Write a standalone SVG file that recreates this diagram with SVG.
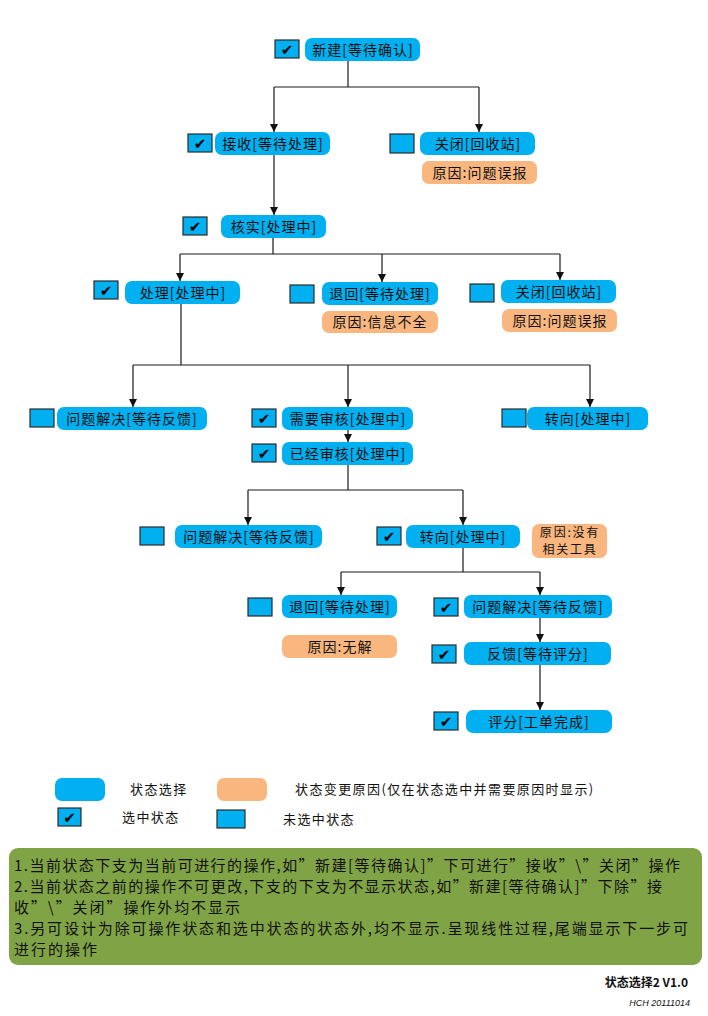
<svg xmlns="http://www.w3.org/2000/svg" width="708" height="1016" viewBox="0 0 708 1016">
<style>
.n{fill:#00B0F0}
.r{fill:#F9B67F}
.cb{fill:#00B0F0;stroke:#2a2a2a;stroke-width:1.2}
.t{font-family:"Noto Sans CJK SC","Noto Sans",sans-serif;font-size:14px;text-anchor:middle;fill:#111;letter-spacing:1px}
.t2{font-family:"Noto Sans CJK SC","Noto Sans",sans-serif;font-size:12px;text-anchor:middle;fill:#111;letter-spacing:1.8px}
.ck{font-family:"DejaVu Sans",sans-serif;font-size:15px;text-anchor:middle;fill:#000}
.lg{font-family:"Noto Sans CJK SC","Noto Sans",sans-serif;font-size:13px;fill:#111;letter-spacing:1.4px}
.nt{font-family:"Noto Sans CJK SC","Noto Sans",sans-serif;font-size:15px;fill:#111}
.c{fill:none;stroke:#1a1a1a;stroke-width:1.2}
</style>
<defs>
<marker id="a" markerUnits="userSpaceOnUse" markerWidth="10" markerHeight="10" refX="8" refY="4" orient="auto">
<path d="M0,0 L8,4 L0,8 Z" fill="#111"/>
</marker>
</defs>
<rect width="708" height="1016" fill="#fff"/>
<g id="connectors">
<path class="c" d="M348,61 V87 M274,87 H479"/>
<path class="c" marker-end="url(#a)" d="M274,87 V132"/>
<path class="c" marker-end="url(#a)" d="M479,87 V132"/>
<path class="c" marker-end="url(#a)" d="M274,155 V215"/>
<path class="c" d="M273,238 V254 M180,254 H560"/>
<path class="c" marker-end="url(#a)" d="M180,254 V281"/>
<path class="c" marker-end="url(#a)" d="M382,254 V282"/>
<path class="c" marker-end="url(#a)" d="M560,254 V280"/>
<path class="c" d="M181,304 V365 M133,365 H590"/>
<path class="c" marker-end="url(#a)" d="M133,365 V407"/>
<path class="c" marker-end="url(#a)" d="M348,365 V407"/>
<path class="c" marker-end="url(#a)" d="M590,365 V407"/>
<path class="c" marker-end="url(#a)" d="M348,430 V442"/>
<path class="c" d="M348,465 V490 M248,490 H463"/>
<path class="c" marker-end="url(#a)" d="M248,490 V525"/>
<path class="c" marker-end="url(#a)" d="M463,490 V525"/>
<path class="c" d="M463,548 V572 M341,572 H540"/>
<path class="c" marker-end="url(#a)" d="M341,572 V595"/>
<path class="c" marker-end="url(#a)" d="M540,572 V595"/>
<path class="c" marker-end="url(#a)" d="M540,618 V642"/>
<path class="c" marker-end="url(#a)" d="M540,665 V710"/>
</g>
<g id="n1"><rect class="cb" x="275" y="40" width="24" height="18"/><text class="ck" x="287" y="55">✔</text><rect class="n" x="305" y="38" width="115" height="23" rx="7"/><text class="t" x="363" y="54.5">新建[等待确认]</text></g>
<g id="n2"><rect class="cb" x="188" y="134" width="24" height="18"/><text class="ck" x="200" y="149">✔</text><rect class="n" x="215" y="132" width="115" height="23" rx="7"/><text class="t" x="273" y="148.5">接收[等待处理]</text></g>
<g id="n3"><rect class="cb" x="390" y="134" width="24" height="19"/><rect class="n" x="420" y="132" width="115" height="23" rx="7"/><text class="t" x="478" y="148.5">关闭[回收站]</text><rect class="r" x="422" y="161" width="115" height="23" rx="7"/><text class="t" x="480" y="177.5">原因:问题误报</text></g>
<g id="n4"><rect class="cb" x="183" y="217" width="24" height="18"/><text class="ck" x="195" y="232">✔</text><rect class="n" x="221" y="215" width="105" height="23" rx="7"/><text class="t" x="274" y="231.5">核实[处理中]</text></g>
<g id="n5"><rect class="cb" x="94" y="281" width="24" height="18"/><text class="ck" x="106" y="296">✔</text><rect class="n" x="125" y="281" width="115" height="23" rx="7"/><text class="t" x="183" y="297.5">处理[处理中]</text></g>
<g id="n6"><rect class="cb" x="290" y="285" width="24" height="18"/><rect class="n" x="322" y="282" width="116" height="23" rx="7"/><text class="t" x="380" y="298.5">退回[等待处理]</text><rect class="r" x="322" y="311" width="116" height="22" rx="7"/><text class="t" x="380" y="327">原因:信息不全</text></g>
<g id="n7"><rect class="cb" x="470" y="284" width="24" height="18"/><rect class="n" x="501" y="280" width="115" height="23" rx="7"/><text class="t" x="559" y="296.5">关闭[回收站]</text><rect class="r" x="502" y="309" width="115" height="23" rx="7"/><text class="t" x="560" y="325.5">原因:问题误报</text></g>
<g id="n8"><rect class="cb" x="30" y="409" width="24" height="18"/><rect class="n" x="57" y="407" width="150" height="23" rx="7"/><text class="t" x="132" y="423.5">问题解决[等待反馈]</text></g>
<g id="n9"><rect class="cb" x="252" y="409" width="24" height="18"/><text class="ck" x="264" y="424">✔</text><rect class="n" x="282" y="407" width="131" height="23" rx="7"/><text class="t" x="348" y="423.5">需要审核[处理中]</text></g>
<g id="n10"><rect class="cb" x="502" y="409" width="24" height="18"/><rect class="n" x="527" y="407" width="121" height="23" rx="7"/><text class="t" x="588" y="423.5">转向[处理中]</text></g>
<g id="n11"><rect class="cb" x="252" y="444" width="24" height="18"/><text class="ck" x="264" y="459">✔</text><rect class="n" x="282" y="442" width="131" height="23" rx="7"/><text class="t" x="348" y="458.5">已经审核[处理中]</text></g>
<g id="n12"><rect class="cb" x="140" y="527" width="24" height="18"/><rect class="n" x="175" y="525" width="147" height="23" rx="7"/><text class="t" x="249" y="541.5">问题解决[等待反馈]</text></g>
<g id="n13"><rect class="cb" x="377" y="527" width="24" height="18"/><text class="ck" x="389" y="542">✔</text><rect class="n" x="406" y="525" width="114" height="23" rx="7"/><text class="t" x="463" y="541.5">转向[处理中]</text><rect class="r" x="532" y="524" width="75" height="34" rx="7"/><text class="t2" x="570" y="536.5">原因:没有</text><text class="t2" x="570" y="554">相关工具</text></g>
<g id="n14"><rect class="cb" x="248" y="598" width="24" height="18"/><rect class="n" x="282" y="595" width="115" height="23" rx="7"/><text class="t" x="340" y="611.5">退回[等待处理]</text><rect class="r" x="282" y="635" width="115" height="23" rx="7"/><text class="t" x="340" y="651.5">原因:无解</text></g>
<g id="n15"><rect class="cb" x="434" y="598" width="24" height="18"/><text class="ck" x="446" y="613">✔</text><rect class="n" x="464" y="595" width="148" height="23" rx="7"/><text class="t" x="538" y="611.5">问题解决[等待反馈]</text></g>
<g id="n16"><rect class="cb" x="432" y="645" width="24" height="18"/><text class="ck" x="444" y="660">✔</text><rect class="n" x="464" y="642" width="147" height="23" rx="7"/><text class="t" x="538" y="658.5">反馈[等待评分]</text></g>
<g id="n17"><rect class="cb" x="434" y="712" width="24" height="18"/><text class="ck" x="446" y="727">✔</text><rect class="n" x="466" y="710" width="146" height="23" rx="7"/><text class="t" x="539" y="726.5">评分[工单完成]</text></g>
<g id="legend">
<rect class="n" x="55" y="778" width="50" height="23" rx="7"/><text class="lg" x="130" y="794">状态选择</text>
<rect class="r" x="217" y="778" width="50" height="23" rx="7"/><text class="lg" x="295" y="794">状态变更原因(仅在状态选中并需要原因时显示)</text>
<rect class="cb" x="58" y="808" width="23" height="18"/><text class="ck" x="69.5" y="823">✔</text><text class="lg" x="122" y="822">选中状态</text>
<rect class="cb" x="217" y="810" width="28" height="18"/><text class="lg" x="283" y="824">未选中状态</text>
</g>
<g id="note">
<rect x="9" y="848" width="693" height="117" rx="9" fill="#80A346"/>
<text class="nt" x="14" y="871" textLength="666" lengthAdjust="spacing">1.当前状态下支为当前可进行的操作,如”新建[等待确认]”下可进行”接收”\”关闭”操作</text>
<text class="nt" x="14" y="892" textLength="648" lengthAdjust="spacing">2.当前状态之前的操作不可更改,下支的下支为不显示状态,如”新建[等待确认]”下除”接</text>
<text class="nt" x="14" y="913" textLength="226" lengthAdjust="spacing">收”\”关闭”操作外均不显示</text>
<text class="nt" x="14" y="934" textLength="674" lengthAdjust="spacing">3.另可设计为除可操作状态和选中状态的状态外,均不显示.呈现线性过程,尾端显示下一步可</text>
<text class="nt" x="14" y="955" textLength="83" lengthAdjust="spacing">进行的操作</text>
</g>
<g id="footer">
<text x="688" y="987" text-anchor="end" font-family="Noto Sans CJK SC,sans-serif" font-size="12" font-weight="bold" fill="#111">状态选择2 V1.0</text>
<text x="690" y="1006" text-anchor="end" font-family="Liberation Sans,sans-serif" font-size="9" font-style="italic" fill="#111">HCH 20111014</text>
</g>
</svg>
